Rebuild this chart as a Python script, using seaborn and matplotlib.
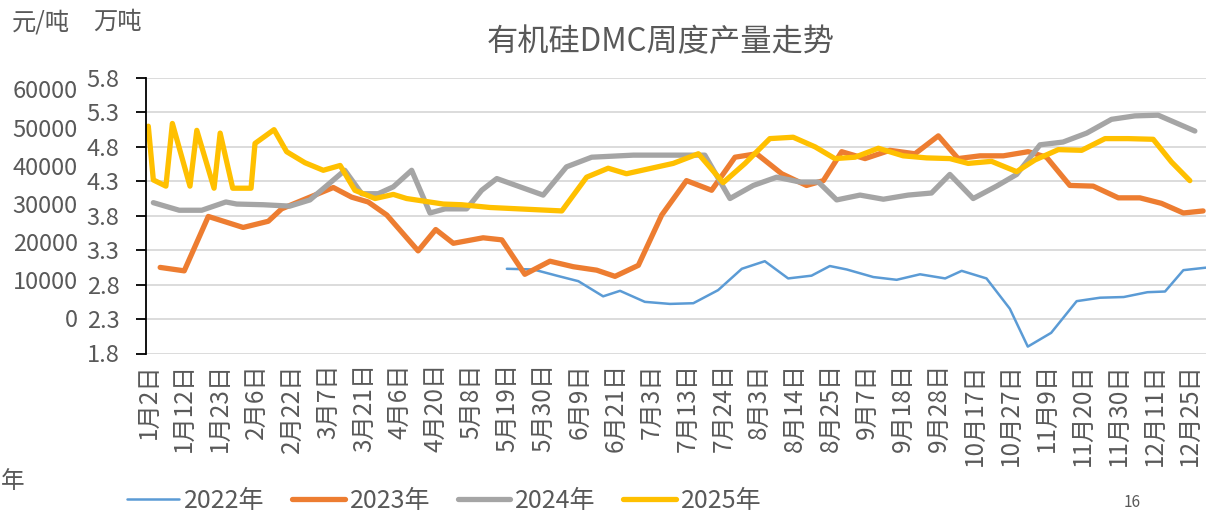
import numpy as np
import pandas as pd
import seaborn as sns
import matplotlib.pyplot as plt

# --- DATA ---
x_labels = ['1月2日', '1月12日', '1月23日', '2月6日', '2月22日', '3月7日', '3月21日',
            '4月6日', '4月20日', '5月8日', '5月19日', '5月30日', '6月9日', '6月21日',
            '7月3日', '7月13日', '7月24日', '8月3日', '8月14日', '8月25日', '9月7日',
            '9月18日', '9月28日', '10月17日', '10月27日', '11月9日', '11月20日',
            '11月30日', '12月11日', '12月25日']
years = ['2022年', '2023年', '2024年', '2025年']

# position on the date axis (in label steps) and weekly output (万吨)
x_2022 = [9.98, 10.72, 11.37, 11.97, 12.66, 13.13, 13.82, 14.52, 15.17, 15.86, 16.52,
          17.16, 17.81, 18.46, 18.97, 19.44, 20.18, 20.83, 21.48, 22.18, 22.64, 23.33,
          23.98, 24.48, 25.13, 25.84, 26.49, 27.15, 27.81, 28.30, 28.81, 29.50]
y_2022 = [3.03, 3.02, 2.93, 2.85, 2.63, 2.71, 2.55, 2.52, 2.53, 2.72, 3.03,
          3.14, 2.89, 2.93, 3.07, 3.02, 2.91, 2.87, 2.95, 2.89, 3.00, 2.89,
          2.45, 1.90, 2.10, 2.56, 2.61, 2.62, 2.69, 2.70, 3.01, 3.05]

x_2023 = [0.33, 1.00, 1.67, 2.64, 3.34, 3.71, 4.31, 5.15, 5.66, 6.12, 6.64, 7.51,
          8.00, 8.49, 9.32, 9.84, 10.48, 11.18, 11.83, 12.48, 12.99, 13.64, 14.29,
          14.98, 15.68, 16.33, 16.93, 17.63, 18.32, 18.79, 19.30, 19.95, 20.64,
          21.34, 21.99, 22.54, 23.15, 23.80, 24.49, 25.00, 25.65, 26.30, 27.00,
          27.60, 28.20, 28.81, 29.36]
y_2023 = [3.05, 3.00, 3.79, 3.63, 3.72, 3.90, 4.03, 4.21, 4.07, 4.00, 3.81, 3.29,
          3.60, 3.40, 3.48, 3.45, 2.95, 3.14, 3.06, 3.01, 2.92, 3.08, 3.81,
          4.31, 4.17, 4.65, 4.70, 4.41, 4.24, 4.31, 4.73, 4.63, 4.75,
          4.70, 4.96, 4.63, 4.67, 4.67, 4.73, 4.65, 4.24, 4.23, 4.06,
          4.06, 3.98, 3.84, 3.87]

x_2024 = [0.14, 0.86, 1.49, 2.16, 2.46, 3.20, 3.94, 4.50, 5.47, 5.94, 6.40, 6.82,
          7.33, 7.84, 8.26, 8.86, 9.28, 9.70, 10.99, 11.64, 12.34, 13.50, 15.49,
          16.19, 16.84, 17.49, 18.14, 18.65, 19.16, 19.81, 20.46, 21.15, 21.80,
          22.31, 22.96, 23.61, 24.17, 24.82, 25.46, 26.12, 26.81, 27.46, 28.11, 29.13]
y_2024 = [3.99, 3.88, 3.88, 4.00, 3.97, 3.96, 3.94, 4.03, 4.46, 4.12, 4.12, 4.22,
          4.46, 3.84, 3.90, 3.90, 4.17, 4.34, 4.10, 4.51, 4.65, 4.68, 4.68,
          4.05, 4.24, 4.36, 4.29, 4.29, 4.03, 4.10, 4.04, 4.10, 4.13,
          4.40, 4.05, 4.23, 4.40, 4.83, 4.87, 5.00, 5.20, 5.25, 5.26, 5.03]

x_2025 = [0.00, 0.14, 0.49, 0.67, 1.16, 1.35, 1.83, 2.00, 2.35, 2.86, 2.97, 3.50,
          3.85, 4.36, 4.87, 5.34, 5.75, 6.31, 6.82, 7.19, 7.70, 8.21, 8.72, 9.51,
          11.51, 12.20, 12.80, 13.31, 14.61, 15.31, 16.00, 16.61, 17.30, 17.95,
          18.56, 19.11, 19.67, 20.32, 21.01, 21.66, 22.31, 22.82, 23.47, 24.17,
          24.68, 25.33, 25.98, 26.63, 27.27, 27.97, 28.48, 28.99]
y_2025 = [5.10, 4.32, 4.23, 5.14, 4.23, 5.04, 4.20, 5.00, 4.20, 4.20, 4.85, 5.05,
          4.73, 4.57, 4.46, 4.53, 4.17, 4.05, 4.11, 4.05, 4.01, 3.97, 3.96, 3.92,
          3.87, 4.36, 4.49, 4.41, 4.56, 4.70, 4.28, 4.56, 4.92, 4.94,
          4.80, 4.63, 4.65, 4.78, 4.67, 4.64, 4.63, 4.56, 4.59, 4.44,
          4.61, 4.76, 4.75, 4.92, 4.92, 4.91, 4.58, 4.31]

price_ticks = [0, 10000, 20000, 30000, 40000, 50000, 60000]
output_ticks = [1.8, 2.3, 2.8, 3.3, 3.8, 4.3, 4.8, 5.3, 5.8]

colors = {'2022年': '#5B9BD5', '2023年': '#ED7D31', '2024年': '#A5A5A5', '2025年': '#FFC000'}
widths = {'2022年': 1.8, '2023年': 3.8, '2024年': 3.8, '2025年': 3.8}

frames = []
for yr, xs, ys in zip(years, [x_2022, x_2023, x_2024, x_2025], [y_2022, y_2023, y_2024, y_2025]):
    frames.append(pd.DataFrame({'pos': xs, 'value': ys, 'year': yr}))
df = pd.concat(frames, ignore_index=True)

# --- STYLE ---
sns.set_theme(style='white')
plt.rcParams['font.family'] = ['Noto Sans CJK SC', 'DejaVu Sans']
TXT = '#595959'

W, H = 1206, 512
fig = plt.figure(figsize=(W / 100, H / 100), dpi=100)
ax = fig.add_axes([146 / W, 1 - 353.5 / H, 1 - 146 / W, (353.5 - 78) / H])

sns.lineplot(data=df, x='pos', y='value', hue='year', size='year', hue_order=years,
             palette=colors, sizes=widths, sort=False, estimator=None, ax=ax)
for ln in ax.get_lines():
    ln.set_solid_joinstyle('round')
    ln.set_solid_capstyle('round')

handles, labels = ax.get_legend_handles_labels()
ax.get_legend().remove()

ax.set_xlim(-0.064, 29.44)
ax.set_ylim(1.8, 5.8)
ax.set_yticks(output_ticks)
ax.set_yticklabels([f'{v:.1f}' for v in output_ticks])
ax.set_xticks(range(len(x_labels)))
ax.set_xticklabels(x_labels, rotation=90, ha='center', va='top')
ax.set_xlabel('')
ax.set_ylabel('')
ax.yaxis.grid(True, color='#d9d9d9', lw=1.3)
ax.set_axisbelow(True)
for s in ['top', 'right', 'bottom']:
    ax.spines[s].set_visible(False)
ax.spines['left'].set_color('black')
ax.spines['left'].set_linewidth(1.3)
ax.tick_params(axis='y', left=True, length=7, width=1.3, color='black',
               labelcolor=TXT, labelsize=17, pad=12)
ax.tick_params(axis='x', length=0, labelcolor=TXT, labelsize=17.5, pad=7)

# price axis (元/吨) shown on the far left, no line
ax2 = ax.twinx()
ax2.set_ylim(-9170, 62960)
ax2.set_yticks(price_ticks)
ax2.set_yticklabels([str(v) for v in price_ticks])
ax2.yaxis.tick_left()
ax2.tick_params(axis='y', length=0, labelcolor=TXT, labelsize=17, pad=49)
for s in ax2.spines.values():
    s.set_visible(False)
ax2.grid(False)

fig.text(12 / W, 1 - 22 / H, '元/吨', ha='left', va='center', color=TXT, fontsize=17.5)
fig.text(93 / W, 1 - 22 / H, '万吨', ha='left', va='center', color=TXT, fontsize=17.5)
fig.text(661 / W, 1 - 42 / H, '有机硅DMC周度产量走势', ha='center', va='center',
         color=TXT, fontsize=22.5)

fig.legend(handles, labels, loc='center left', bbox_to_anchor=(114 / W, 1 - 501 / H),
           ncol=4, frameon=False, fontsize=18, handlelength=2.1, handletextpad=0.2,
           columnspacing=1.1, borderpad=0, labelcolor=TXT)

# small fragments near the picture edges
fig.text(1 / W, 1 - 481 / H, '年', ha='left', va='center', color=TXT, fontsize=17)
fig.text(1124 / W, 1 / H, '16', ha='left', va='bottom', color=TXT, fontsize=11)

fig.savefig('out.png', dpi=100)
